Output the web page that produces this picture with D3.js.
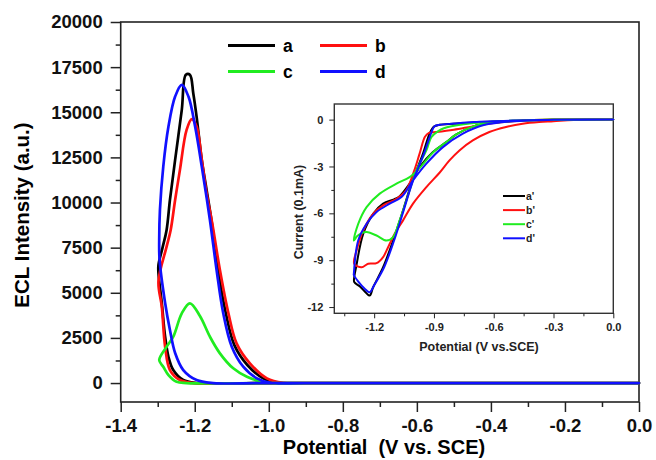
<!DOCTYPE html>
<html lang="en">
<head>
<meta charset="UTF-8">
<title>ECL intensity vs potential</title>
<script src="https://cdn.jsdelivr.net/npm/d3@7"></script>
<style>
	body { margin: 0; background: #fff; }
	svg { font-family: "Liberation Sans", Arial, sans-serif; font-weight: bold; }
	.axis line { stroke: #222; }
	.axis path { display: none; }
	.frame { fill: none; stroke: #222; stroke-width: 1.6; }
	.inset-frame { fill: #fff; stroke: #333; stroke-width: 1.4; }
	.curve { fill: none; stroke-linejoin: round; stroke-linecap: round; }
</style>
</head>
<body>
<div id="container"></div>
<script>
	// main panel: ECL intensity (a.u.) vs potential (V), one closed scan each
	var eclA = [[0,0],[-0.9,0],[-0.975,17],[-1.015,260],[-1.058,1000],[-1.093,2100],[-1.116,3863],
		[-1.137,6264],[-1.155,9035],[-1.168,10700],[-1.181,12361],[-1.195,14761],[-1.204,16058],
		[-1.213,17073],[-1.224,17073],[-1.235,15133],[-1.253,12361],[-1.267,10144],[-1.276,8481],
		[-1.287,7500],[-1.298,6540],[-1.298,6080],[-1.289,4434],[-1.28,2566],[-1.271,1458],
		[-1.258,720],[-1.231,166],[-1.195,0],[-1.0,0],[0,0]];
	var eclB = [[0,0],[-0.9,0],[-0.961,17],[-1.005,260],[-1.051,1092],[-1.087,2200],[-1.109,3863],
		[-1.132,6264],[-1.152,8758],[-1.168,10515],[-1.181,12361],[-1.195,14207],[-1.208,14617],
		[-1.222,14024],[-1.24,11807],[-1.253,10144],[-1.265,8481],[-1.276,7555],[-1.298,5615],
		[-1.289,4229],[-1.28,2012],[-1.267,720],[-1.24,166],[-1.204,0],[-1.0,0],[0,0]];
	var eclC = [[0,0],[-0.9,0],[-1.005,17],[-1.059,349],[-1.096,815],[-1.132,1646],[-1.159,2566],
		[-1.186,3714],[-1.213,4418],[-1.235,3863],[-1.258,2566],[-1.276,2012],[-1.296,1275],
		[-1.285,904],[-1.271,443],[-1.249,72],[-1.222,0],[-1.0,0],[0,0]];
	var eclD = [[0,0],[-0.9,0],[-0.996,17],[-1.032,260],[-1.069,904],[-1.1,2012],[-1.123,3863],
		[-1.141,6264],[-1.159,9035],[-1.181,11990],[-1.199,14207],[-1.217,15870],[-1.235,16518],
		[-1.253,15870],[-1.271,14207],[-1.285,11990],[-1.294,9590],[-1.296,7927],[-1.295,6818],
		[-1.28,4434],[-1.267,2938],[-1.253,1663],[-1.231,720],[-1.195,166],[-1.15,0],[-1.0,0],[0,0]];

	// inset: current (0.1 mA) vs potential (V)
	var cvA = [[0,0],[-0.3,-0.02],[-0.5,-0.08],[-0.7,-0.18],[-0.8,-0.26],[-0.87,-0.33],[-0.9,-0.45],
		[-0.922,-0.9],[-0.955,-2.18],[-1.013,-4.1],[-1.055,-5.81],[-1.105,-7.74],[-1.155,-9.45],
		[-1.205,-10.73],[-1.222,-11.26],[-1.24,-11.1],[-1.27,-10.7],[-1.3,-10.4],[-1.3,-10.1],
		[-1.29,-9.4],[-1.255,-7.31],[-1.205,-6.03],[-1.155,-5.38],[-1.1,-5.1],[-1.072,-4.9],
		[-1.022,-4.1],[-0.972,-3.04],[-0.905,-2.08],[-0.838,-1.44],[-0.788,-0.95],[-0.705,-0.45],
		[-0.622,-0.22],[-0.455,-0.06],[-0.3,-0.01],[0,0]];
	var cvB = [[0,0],[-0.2,-0.02],[-0.3,-0.1],[-0.372,-0.15],[-0.455,-0.26],[-0.538,-0.47],
		[-0.622,-0.79],[-0.705,-1.33],[-0.772,-1.97],[-0.822,-2.61],[-0.872,-3.4],[-0.938,-4.32],
		[-1.005,-5.38],[-1.055,-6.45],[-1.097,-7.31],[-1.13,-8.17],[-1.155,-8.8],[-1.188,-9.19],
		[-1.23,-9.23],[-1.263,-9.45],[-1.3,-9.23],[-1.288,-8.38],[-1.255,-7.1],[-1.205,-6.03],
		[-1.155,-5.49],[-1.088,-5.07],[-1.04,-4.53],[-1.0,-3.3],[-0.972,-2.18],[-0.945,-1.1],
		[-0.925,-0.85],[-0.888,-0.8],[-0.8,-0.65],[-0.7,-0.42],[-0.6,-0.22],[-0.5,-0.1],
		[-0.4,-0.03],[-0.3,0],[0,0]];
	var cvC = [[0,0],[-0.3,-0.02],[-0.455,-0.06],[-0.622,-0.22],[-0.705,-0.45],[-0.788,-0.95],
		[-0.838,-1.44],[-0.905,-2.1],[-0.972,-3.1],[-1.022,-3.68],[-1.088,-4.1],[-1.172,-4.74],
		[-1.238,-5.6],[-1.28,-6.67],[-1.302,-7.74],[-1.285,-7.45],[-1.26,-7.25],[-1.238,-7.2],
		[-1.188,-7.42],[-1.138,-7.74],[-1.105,-7.52],[-1.072,-6.45],[-1.038,-5.17],[-0.988,-3.25],
		[-0.938,-1.97],[-0.913,-1.12],[-0.88,-0.75],[-0.85,-0.55],[-0.75,-0.3],[-0.6,-0.12],
		[-0.4,-0.02],[-0.3,0],[0,0]];
	var cvD = [[0,0],[-0.3,-0.01],[-0.5,-0.06],[-0.7,-0.15],[-0.8,-0.25],[-0.87,-0.33],[-0.897,-0.42],
		[-0.915,-0.9],[-0.95,-2.18],[-1.01,-4.1],[-1.052,-5.81],[-1.1,-7.74],[-1.15,-9.45],
		[-1.2,-10.6],[-1.222,-11.05],[-1.25,-10.8],[-1.302,-9.95],[-1.302,-9.87],[-1.28,-7.74],
		[-1.238,-6.67],[-1.188,-5.92],[-1.122,-5.38],[-1.063,-4.96],[-1.005,-3.89],[-0.938,-2.82],
		[-0.855,-1.76],[-0.755,-0.9],[-0.65,-0.35],[-0.5,-0.1],[-0.3,-0.01],[0,0]];

	var names = ["a", "b", "c", "d"];
	var insetNames = ["a'", "b'", "c'", "d'"];
	var colors = ["#000000", "#ff1010", "#20ec20", "#1010ff"];

	var xTicks = [-1.4, -1.2, -1.0, -0.8, -0.6, -0.4, -0.2, 0.0];
	var xMinor = [-1.3, -1.1, -0.9, -0.7, -0.5, -0.3, -0.1];
	var yTicks = [0, 2500, 5000, 7500, 10000, 12500, 15000, 17500, 20000];
	var yMinor = [1250, 3750, 6250, 8750, 11250, 13750, 16250, 18750];
	var ixTicks = [-1.2, -0.9, -0.6, -0.3, 0.0];
	var ixMinor = [-1.35, -1.05, -0.75, -0.45, -0.15];
	var iyTicks = [0, -3, -6, -9, -12];
	var iyMinor = [-1.5, -4.5, -7.5, -10.5];

	var width = 656, height = 460;
	var svg = d3.select("#container").append("svg")
		.attr("width", width)
		.attr("height", height);

	// ---- main panel
	var mLeft = 120.7, mRight = 639, mTop = 22, mBottom = 402;
	var x = d3.scaleLinear().domain([-1.4, 0]).range([mLeft, mRight]);
	var y = d3.scaleLinear().domain([-1050, 20000]).range([mBottom, mTop]);

	var fmt1 = function(d) { return d.toFixed(1); };

	var gx = svg.append("g").attr("class", "axis")
		.attr("transform", "translate(0," + mBottom + ")")
		.call(d3.axisBottom(x).tickValues(xTicks).tickFormat(fmt1).tickSize(10).tickPadding(7));
	svg.append("g").attr("class", "axis")
		.attr("transform", "translate(0," + mBottom + ")")
		.call(d3.axisBottom(x).tickValues(xMinor).tickFormat("").tickSize(5));
	var gy = svg.append("g").attr("class", "axis")
		.attr("transform", "translate(" + mLeft + ",0)")
		.call(d3.axisLeft(y).tickValues(yTicks).tickFormat(function(d){ return d; }).tickSize(10).tickPadding(8));
	svg.append("g").attr("class", "axis")
		.attr("transform", "translate(" + mLeft + ",0)")
		.call(d3.axisLeft(y).tickValues(yMinor).tickFormat("").tickSize(5));
	svg.selectAll(".axis line").attr("stroke-width", 1.5);
	gx.selectAll("text").attr("font-size", 18.5).attr("fill", "#111");
	gy.selectAll("text").attr("font-size", 18.5).attr("fill", "#111");

	svg.append("rect").attr("class", "frame")
		.attr("x", mLeft).attr("y", mTop)
		.attr("width", mRight - mLeft).attr("height", mBottom - mTop);

	svg.append("text")
		.attr("x", 384).attr("y", 454)
		.attr("text-anchor", "middle")
		.attr("font-size", 20)
		.style("white-space", "pre")
		.text("Potential  (V vs. SCE)");
	svg.append("text")
		.attr("transform", "translate(28.5,215) rotate(-90)")
		.attr("text-anchor", "middle")
		.attr("font-size", 20.5)
		.text("ECL Intensity (a.u.)");

	// legend, two columns
	var legend = svg.append("g");
	names.forEach(function(n, i) {
		var lx = i % 2 == 0 ? 228 : 320;
		var ly = i < 2 ? 45.5 : 71.5;
		legend.append("line")
			.attr("x1", lx).attr("x2", lx + 47)
			.attr("y1", ly).attr("y2", ly)
			.attr("stroke", colors[i]).attr("stroke-width", 3);
		legend.append("text")
			.attr("x", lx + 55).attr("y", ly + 6)
			.attr("font-size", 17.5)
			.text(n);
	});

	var line = d3.line()
		.x(function(d){ return x(d[0]); })
		.y(function(d){ return y(d[1]); })
		.curve(d3.curveCatmullRom.alpha(0.5));

	[eclA, eclB, eclC, eclD].forEach(function(s, i) {
		svg.append("path").attr("class", "curve")
			.attr("d", line(s))
			.attr("stroke", colors[i])
			.attr("stroke-width", 2.7);
	});

	// ---- inset
	var il = 334.3, ir = 613.3, it = 104, ib = 313.3;
	var ix = d3.scaleLinear().domain([-1.4, 0]).range([il, ir]);
	var iy = d3.scaleLinear().domain([-12.4, 1]).range([ib, it]);

	svg.append("rect").attr("class", "inset-frame")
		.attr("x", il).attr("y", it)
		.attr("width", ir - il).attr("height", ib - it);

	var igx = svg.append("g").attr("class", "axis")
		.attr("transform", "translate(0," + ib + ")")
		.call(d3.axisBottom(ix).tickValues(ixTicks).tickFormat(fmt1).tickSize(5).tickPadding(5));
	svg.append("g").attr("class", "axis")
		.attr("transform", "translate(0," + ib + ")")
		.call(d3.axisBottom(ix).tickValues(ixMinor).tickFormat("").tickSize(3));
	var igy = svg.append("g").attr("class", "axis")
		.attr("transform", "translate(" + il + ",0)")
		.call(d3.axisLeft(iy).tickValues(iyTicks).tickFormat(function(d){ return d; }).tickSize(5).tickPadding(6));
	svg.append("g").attr("class", "axis")
		.attr("transform", "translate(" + il + ",0)")
		.call(d3.axisLeft(iy).tickValues(iyMinor).tickFormat("").tickSize(3));
	igx.selectAll("text").attr("font-size", 11).attr("fill", "#222");
	igy.selectAll("text").attr("font-size", 11).attr("fill", "#222");

	svg.append("text")
		.attr("x", 479).attr("y", 351)
		.attr("text-anchor", "middle")
		.attr("font-size", 12.5)
		.attr("fill", "#222")
		.text("Potential (V vs.SCE)");
	svg.append("text")
		.attr("transform", "translate(303,212) rotate(-90)")
		.attr("text-anchor", "middle")
		.attr("font-size", 12.5)
		.attr("fill", "#222")
		.text("Current (0.1mA)");

	var iline = d3.line()
		.x(function(d){ return ix(d[0]); })
		.y(function(d){ return iy(d[1]); })
		.curve(d3.curveCatmullRom.alpha(0.5));

	[cvA, cvB, cvC, cvD].forEach(function(s, i) {
		svg.append("path").attr("class", "curve")
			.attr("d", iline(s))
			.attr("stroke", colors[i])
			.attr("stroke-width", 2);
	});

	var ileg = svg.append("g");
	insetNames.forEach(function(n, i) {
		var ly = 196 + i * 14.1;
		ileg.append("line")
			.attr("x1", 503).attr("x2", 525)
			.attr("y1", ly).attr("y2", ly)
			.attr("stroke", colors[i]).attr("stroke-width", 2);
		ileg.append("text")
			.attr("x", 526).attr("y", ly + 3.8)
			.attr("font-size", 10.5)
			.attr("fill", "#222")
			.text(n);
	});
</script>
</body>
</html>
